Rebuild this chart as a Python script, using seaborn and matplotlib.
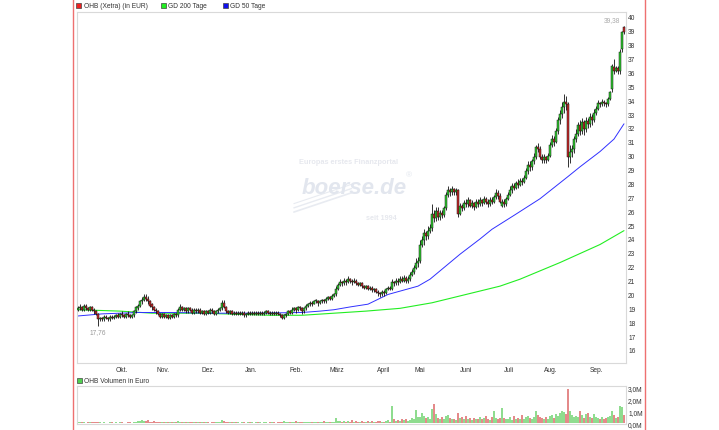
import numpy as np
import pandas as pd
import matplotlib
matplotlib.use("Agg")
import matplotlib.pyplot as plt
import seaborn as sns
from matplotlib.patches import Rectangle
from matplotlib.lines import Line2D

# ---------------- data ----------------
opens = [
    18.9, 19.0, 19.1, 18.9, 19.2, 19.0, 18.9, 19.1, 18.9, 18.8,
    18.6, 18.2, 18.3, 18.2, 18.4, 18.3, 18.2, 18.4, 18.3, 18.4,
    18.5, 18.4, 18.6, 18.5, 18.4, 18.6, 18.5, 18.4, 18.5, 18.8,
    19.0, 19.2, 19.5, 19.6, 19.8, 19.7, 19.5, 19.3, 19.1, 18.9,
    18.8, 18.6, 18.4, 18.6, 18.4, 18.5, 18.3, 18.5, 18.4, 18.6,
    18.5, 18.9, 19.1, 18.9, 19.0, 18.8, 19.0, 18.9, 18.7, 18.9,
    18.8, 18.9, 18.7, 18.8, 18.6, 18.8, 18.7, 18.9, 18.8, 18.6,
    18.8, 18.9, 19.0, 19.4, 19.1, 18.8, 18.7, 18.8, 18.6, 18.7,
    18.6, 18.7, 18.6, 18.7, 18.5, 18.6, 18.7, 18.6, 18.7, 18.6,
    18.7, 18.6, 18.7, 18.6, 18.7, 18.8, 18.7, 18.6, 18.7, 18.6,
    18.7, 18.6, 18.5, 18.3, 18.5, 18.6, 18.8, 18.7, 18.9, 19.0,
    18.9, 19.1, 19.0, 18.8, 19.0, 19.2, 19.3, 19.4, 19.3, 19.5,
    19.5, 19.4, 19.5, 19.6, 19.5, 19.7, 19.8, 19.7, 19.9, 20.0,
    20.4, 20.7, 20.9, 20.8, 21.0, 20.9, 21.1, 21.0, 20.9, 21.0,
    20.8, 20.7, 20.8, 20.6, 20.5, 20.6, 20.4, 20.5, 20.3, 20.4,
    20.2, 20.1, 20.0, 20.2, 20.1, 20.4, 20.5, 20.4, 20.9, 20.8,
    21.0, 20.9, 21.1, 21.0, 21.2, 21.0, 21.1, 21.4, 21.6, 21.9,
    22.3, 22.4, 23.6, 23.9, 24.4, 24.2, 24.6, 24.8, 25.8, 25.5,
    26.0, 25.6, 25.9, 25.7, 26.2, 27.2, 27.5, 27.4, 27.6, 27.4,
    27.5, 25.8, 26.4, 26.2, 26.6, 26.5, 26.8, 26.4, 26.6, 26.3,
    26.7, 26.5, 26.8, 26.6, 26.9, 26.7, 26.5, 26.8, 26.7, 27.0,
    27.3, 27.1, 26.4, 26.7, 26.5, 26.9, 27.2, 27.5, 27.8, 27.7,
    28.0, 27.9, 28.2, 28.1, 28.4, 28.9, 29.3, 29.2, 29.6, 29.9,
    30.6, 30.5, 29.9, 29.7, 29.9, 29.7, 30.0, 30.8, 31.2, 31.0,
    31.8, 32.6, 33.0, 33.5, 33.9, 33.7, 29.9, 30.3, 30.5, 31.2,
    31.6, 32.2, 31.8, 32.4, 31.9, 32.5, 32.3, 32.8, 32.6, 33.1,
    33.4, 33.8, 33.7, 33.9, 33.8, 33.7, 34.1, 34.8, 36.4, 36.1,
    36.3, 36.1, 37.7, 39.3,
]
closes = [
    19.0, 19.1, 18.9, 19.2, 19.0, 18.9, 19.1, 18.9, 18.8, 18.6,
    18.2, 18.3, 18.2, 18.4, 18.3, 18.2, 18.4, 18.3, 18.4, 18.5,
    18.4, 18.6, 18.5, 18.4, 18.6, 18.5, 18.4, 18.5, 18.8, 19.1,
    19.2, 19.5, 19.6, 19.8, 19.7, 19.5, 19.2, 19.1, 18.9, 18.8,
    18.6, 18.4, 18.6, 18.4, 18.5, 18.3, 18.5, 18.4, 18.6, 18.5,
    18.9, 19.1, 18.9, 19.0, 18.8, 19.0, 18.9, 18.7, 18.9, 18.8,
    18.9, 18.7, 18.8, 18.6, 18.8, 18.7, 18.9, 18.8, 18.6, 18.8,
    18.9, 19.0, 19.4, 19.1, 18.8, 18.7, 18.8, 18.6, 18.7, 18.6,
    18.7, 18.6, 18.7, 18.5, 18.6, 18.7, 18.6, 18.7, 18.6, 18.7,
    18.6, 18.7, 18.6, 18.7, 18.8, 18.7, 18.6, 18.7, 18.6, 18.7,
    18.6, 18.5, 18.3, 18.5, 18.6, 18.8, 18.7, 18.9, 19.0, 18.9,
    19.1, 19.0, 18.8, 19.0, 19.2, 19.3, 19.4, 19.3, 19.5, 19.6,
    19.4, 19.5, 19.6, 19.5, 19.7, 19.8, 19.7, 19.9, 20.0, 20.4,
    20.7, 20.9, 20.8, 21.0, 20.9, 21.1, 21.0, 20.9, 21.0, 20.8,
    20.7, 20.8, 20.6, 20.5, 20.6, 20.4, 20.5, 20.3, 20.4, 20.2,
    20.1, 20.0, 20.2, 20.1, 20.4, 20.5, 20.4, 20.9, 20.8, 21.0,
    20.9, 21.1, 21.0, 21.2, 21.0, 21.1, 21.4, 21.6, 21.9, 22.3,
    22.4, 23.6, 23.9, 24.4, 24.2, 24.6, 24.8, 25.8, 25.5, 26.0,
    25.6, 25.9, 25.7, 26.2, 27.2, 27.5, 27.4, 27.6, 27.4, 27.5,
    25.8, 26.4, 26.2, 26.6, 26.5, 26.8, 26.4, 26.6, 26.3, 26.7,
    26.5, 26.8, 26.6, 26.9, 26.7, 26.5, 26.8, 26.7, 27.0, 27.3,
    27.1, 26.7, 26.7, 26.5, 26.9, 27.2, 27.5, 27.8, 27.7, 28.0,
    27.9, 28.2, 28.1, 28.4, 28.9, 29.3, 29.2, 29.6, 29.9, 30.6,
    30.5, 29.9, 29.7, 29.9, 29.7, 30.0, 30.8, 31.2, 31.0, 31.8,
    32.6, 33.0, 33.5, 33.9, 33.7, 29.9, 30.3, 30.5, 31.2, 31.6,
    32.2, 31.8, 32.4, 31.9, 32.5, 32.3, 32.8, 32.6, 33.1, 33.4,
    33.8, 33.7, 33.9, 33.8, 33.7, 34.1, 34.6, 36.5, 36.1, 36.3,
    36.1, 37.5, 38.9, 38.95,
]
highs = [
    19.2, 19.3, 19.2, 19.3, 19.3, 19.1, 19.2, 19.2, 19.0, 18.9,
    18.7, 18.4, 18.4, 18.5, 18.5, 18.4, 18.5, 18.5, 18.5, 18.6,
    18.7, 18.7, 18.8, 18.6, 18.7, 18.8, 18.6, 18.6, 18.9, 19.2,
    19.3, 19.6, 19.8, 20.0, 20.0, 19.9, 19.6, 19.4, 19.2, 19.0,
    18.9, 18.7, 18.7, 18.7, 18.6, 18.6, 18.6, 18.6, 18.7, 18.7,
    19.0, 19.3, 19.2, 19.1, 19.1, 19.1, 19.1, 19.0, 19.0, 19.0,
    19.0, 19.0, 18.9, 18.9, 18.9, 18.9, 19.0, 19.0, 18.9, 18.9,
    19.0, 19.1, 19.6, 19.6, 19.2, 18.9, 18.9, 18.9, 18.8, 18.8,
    18.8, 18.8, 18.8, 18.8, 18.7, 18.8, 18.8, 18.8, 18.8, 18.8,
    18.8, 18.8, 18.8, 18.8, 18.9, 18.9, 18.8, 18.8, 18.8, 18.8,
    18.8, 18.7, 18.6, 18.6, 18.7, 18.9, 18.9, 19.1, 19.1, 19.1,
    19.2, 19.2, 19.1, 19.1, 19.3, 19.4, 19.5, 19.5, 19.6, 19.7,
    19.6, 19.6, 19.7, 19.7, 19.8, 19.9, 19.9, 20.0, 20.1, 20.6,
    20.8, 21.1, 21.0, 21.2, 21.1, 21.3, 21.2, 21.1, 21.2, 21.1,
    20.9, 20.9, 20.9, 20.7, 20.7, 20.7, 20.6, 20.6, 20.5, 20.5,
    20.3, 20.2, 20.3, 20.3, 20.5, 20.6, 20.6, 21.1, 21.0, 21.2,
    21.2, 21.3, 21.3, 21.4, 21.3, 21.3, 21.6, 21.8, 22.1, 22.6,
    22.7, 23.9, 24.2, 24.7, 24.6, 24.9, 25.1, 26.5, 26.1, 26.3,
    26.3, 26.1, 26.1, 26.4, 27.4, 27.8, 27.7, 27.8, 27.7, 27.7,
    27.6, 26.6, 26.5, 26.8, 26.9, 27.0, 26.9, 26.8, 26.7, 26.9,
    26.9, 27.0, 26.9, 27.1, 27.0, 26.9, 27.0, 27.0, 27.2, 27.6,
    27.5, 27.3, 26.9, 26.9, 27.0, 27.4, 27.8, 28.0, 28.0, 28.2,
    28.3, 28.4, 28.4, 28.6, 29.1, 29.6, 29.6, 29.8, 30.2, 30.8,
    30.9, 30.7, 30.1, 30.1, 30.0, 30.2, 31.0, 31.5, 31.4, 32.0,
    32.8, 33.3, 33.9, 34.45, 34.3, 33.9, 30.8, 30.8, 31.4, 31.9,
    32.4, 32.6, 32.7, 32.6, 32.8, 32.7, 33.1, 33.0, 33.4, 33.6,
    34.0, 33.9, 34.1, 34.0, 33.9, 34.2, 34.7, 36.6, 37.0, 36.5,
    36.5, 37.7, 39.0, 39.38,
]
lows = [
    18.8, 18.9, 18.8, 18.8, 18.9, 18.8, 18.8, 18.8, 18.6, 18.5,
    17.76, 18.1, 18.1, 18.1, 18.2, 18.1, 18.1, 18.2, 18.2, 18.3,
    18.3, 18.3, 18.4, 18.3, 18.3, 18.4, 18.3, 18.3, 18.4, 18.7,
    18.9, 19.1, 19.3, 19.5, 19.5, 19.3, 19.1, 18.9, 18.8, 18.6,
    18.5, 18.3, 18.3, 18.3, 18.3, 18.2, 18.2, 18.3, 18.3, 18.4,
    18.4, 18.8, 18.8, 18.8, 18.7, 18.7, 18.8, 18.6, 18.6, 18.7,
    18.7, 18.6, 18.6, 18.5, 18.5, 18.6, 18.6, 18.7, 18.5, 18.5,
    18.7, 18.8, 18.9, 19.0, 18.7, 18.6, 18.6, 18.5, 18.5, 18.5,
    18.5, 18.5, 18.5, 18.4, 18.4, 18.5, 18.5, 18.5, 18.5, 18.5,
    18.5, 18.5, 18.5, 18.5, 18.6, 18.6, 18.5, 18.5, 18.5, 18.5,
    18.5, 18.4, 18.2, 18.2, 18.4, 18.5, 18.6, 18.6, 18.8, 18.7,
    18.8, 18.9, 18.6, 18.7, 18.9, 19.1, 19.2, 19.2, 19.3, 19.4,
    19.2, 19.3, 19.4, 19.4, 19.4, 19.6, 19.6, 19.6, 19.8, 19.9,
    20.3, 20.6, 20.6, 20.7, 20.7, 20.8, 20.8, 20.7, 20.8, 20.7,
    20.6, 20.6, 20.5, 20.4, 20.4, 20.3, 20.3, 20.2, 20.2, 20.1,
    19.9, 19.8, 19.9, 19.9, 20.0, 20.3, 20.3, 20.3, 20.6, 20.7,
    20.7, 20.8, 20.9, 20.9, 20.8, 20.8, 21.0, 21.3, 21.5, 21.8,
    22.0, 22.3, 23.4, 23.6, 23.9, 24.0, 24.4, 24.6, 25.2, 25.3,
    25.4, 25.4, 25.5, 25.6, 26.1, 27.0, 27.1, 27.2, 27.2, 27.2,
    25.6, 25.7, 26.0, 26.1, 26.3, 26.3, 26.3, 26.2, 26.1, 26.2,
    26.3, 26.4, 26.4, 26.5, 26.5, 26.3, 26.4, 26.5, 26.6, 26.9,
    26.9, 26.6, 26.3, 26.3, 26.4, 26.8, 27.1, 27.3, 27.5, 27.6,
    27.7, 27.8, 27.9, 28.0, 28.3, 28.7, 28.9, 29.0, 29.4, 29.8,
    30.3, 29.8, 29.5, 29.5, 29.5, 29.6, 29.9, 30.6, 30.7, 30.9,
    31.6, 32.3, 32.7, 33.1, 33.3, 29.2, 29.5, 29.9, 30.2, 31.0,
    31.4, 31.5, 31.6, 31.5, 31.7, 32.0, 32.1, 32.2, 32.4, 32.9,
    33.3, 33.5, 33.6, 33.6, 33.5, 33.6, 34.0, 34.6, 35.9, 36.0,
    35.9, 35.9, 37.5, 38.8,
]
# volume in million EUR
volume = [
    0.08, 0.05, 0.10, 0.06, 0.04, 0.07, 0.05, 0.09, 0.06, 0.05,
    0.12, 0.06, 0.04, 0.05, 0.03, 0.04, 0.06, 0.05, 0.04, 0.05,
    0.04, 0.06, 0.05, 0.03, 0.04, 0.05, 0.06, 0.04, 0.08, 0.12,
    0.18, 0.15, 0.22, 0.20, 0.14, 0.25, 0.12, 0.10, 0.15, 0.08,
    0.10, 0.12, 0.08, 0.06, 0.07, 0.05, 0.08, 0.06, 0.05, 0.07,
    0.14, 0.10, 0.08, 0.12, 0.06, 0.09, 0.07, 0.05, 0.06, 0.08,
    0.05, 0.07, 0.12, 0.06, 0.05, 0.08, 0.04, 0.06, 0.05, 0.07,
    0.08, 0.10, 0.22, 0.18, 0.12, 0.08, 0.06, 0.10, 0.05, 0.07,
    0.05, 0.04, 0.06, 0.05, 0.04, 0.08, 0.05, 0.06, 0.04, 0.05,
    0.06, 0.05, 0.04, 0.07, 0.05, 0.04, 0.06, 0.09, 0.05, 0.04,
    0.06, 0.08, 0.10, 0.14, 0.09, 0.12, 0.08, 0.10, 0.06, 0.14,
    0.08, 0.06, 0.10, 0.12, 0.08, 0.05, 0.07, 0.10, 0.08, 0.12,
    0.06, 0.10, 0.08, 0.14, 0.07, 0.05, 0.08, 0.10, 0.06, 0.40,
    0.20, 0.15, 0.12, 0.18, 0.10, 0.14, 0.12, 0.22, 0.10, 0.15,
    0.12, 0.08, 0.16, 0.10, 0.12, 0.18, 0.08, 0.14, 0.10, 0.12,
    0.15, 0.20, 0.12, 0.10, 0.18, 0.25, 0.12, 1.40, 0.30, 0.15,
    0.22, 0.18, 0.30, 0.25, 0.35, 0.20, 0.28, 0.40, 0.35, 1.10,
    0.50, 0.55, 0.85, 0.60, 0.40, 0.55, 0.30, 1.15, 1.60, 0.75,
    0.45, 0.35, 0.50, 0.30, 0.60, 0.70, 0.40, 0.35, 0.30, 0.25,
    0.85, 0.40, 0.50, 0.30, 0.60, 0.35, 0.45, 0.25, 0.40, 0.30,
    0.35, 0.55, 0.30, 0.45, 0.60, 0.30, 0.25, 0.50, 1.00, 0.40,
    0.35, 0.45, 1.30, 0.40, 0.30, 0.35, 0.50, 0.25, 0.60, 0.30,
    0.45, 0.35, 0.70, 0.30, 0.55, 0.60, 0.40, 0.35, 0.50, 1.00,
    0.65, 0.50, 0.40, 0.35, 0.55, 0.30, 0.60, 0.70, 0.45, 0.80,
    0.60, 0.85, 1.00, 0.90, 0.75, 2.85, 1.00, 0.70, 0.55, 0.60,
    0.50, 1.00, 0.65, 0.40, 0.75, 0.85, 0.50, 0.45, 0.80, 0.55,
    0.40, 0.35, 0.55, 0.30, 0.45, 0.50, 0.60, 1.00, 0.70, 0.45,
    0.55, 1.40, 1.35, 0.70,
]
# moving averages, read at selected trading-day positions
ma50_day = [0, 12, 30, 46, 71, 88, 112, 121, 128, 136, 145, 155, 165, 170,
            176, 181, 191, 201, 207, 218, 231, 245, 251, 261, 268, 273]
ma50_val = [18.45, 18.6, 18.7, 18.7, 18.65, 18.65, 18.7, 18.8, 18.9, 19.1, 19.3,
            20.0, 20.4, 20.6, 21.1, 21.7, 22.9, 24.0, 24.7, 25.7, 26.9, 28.5,
            29.2, 30.3, 31.2, 32.3]
ma200_day = [0, 21, 37, 62, 96, 112, 144, 161, 177, 194, 211, 221, 241, 261, 273]
ma200_val = [18.9, 18.8, 18.65, 18.65, 18.5, 18.5, 18.8, 19.0, 19.4, 20.0, 20.6,
             21.1, 22.3, 23.6, 24.6]

month_labels = ["Okt.", "Nov.", "Dez.", "Jan.", "Feb.", "März", "April",
                "Mai", "Juni", "Juli", "Aug.", "Sep."]
month_pos = [22, 42.5, 65, 86.5, 109, 129.5, 153, 171, 194, 215.5, 236.5, 259.5]
price_ticks = list(range(16, 41))
vol_ticks = [0, 1, 2, 3]
vol_tick_labels = ["0,0M", "1,0M", "2,0M", "3,0M"]
legend_items = ["OHB (Xetra) (in EUR)", "GD 200 Tage", "GD 50 Tage"]
high_label = "39,38"
low_label = "17,76"

# ---------------- style ----------------
sns.set_theme(style="white")
plt.rcParams['font.family'] = ['Liberation Sans', 'DejaVu Sans']
FS = 4.8
TXT = "#333333"
GREEN = "#2fcc2f"
RED = "#cc2a2a"
VGREEN = "#8fdc8f"
VRED = "#e48a8a"
FRAME = "#d9d9d9"

df = pd.DataFrame({"day": np.arange(len(closes)), "open": opens, "close": closes,
                   "high": highs, "low": lows, "volume": volume})
df["up"] = df["close"] >= df["open"]
ma50 = pd.DataFrame({"day": ma50_day, "value": ma50_val})
ma200 = pd.DataFrame({"day": ma200_day, "value": ma200_val})

W, H = 719, 431
fig = plt.figure(figsize=(W / 100, H / 100), dpi=100)
fig.patch.set_facecolor("white")

ax = fig.add_axes([77 / W, 1 - 364 / H, 549 / W, 351 / H])
axv = fig.add_axes([77 / W, 1 - 425 / H, 549 / W, 38 / H])

# watermark (behind data)
wm = "#e2e6ee"
ax.text(0.495, 0.575, "Europas erstes Finanzportal", transform=ax.transAxes,
        fontsize=5.3, fontweight="bold", color="#e6e8ee", ha="center", va="center")
ax.text(0.505, 0.50, "boerse.de", transform=ax.transAxes, fontsize=16,
        fontweight="bold", fontstyle="italic", color=wm, ha="center", va="center")
ax.text(0.605, 0.535, "®", transform=ax.transAxes, fontsize=6, color=wm,
        ha="center", va="center")
ax.text(0.555, 0.415, "seit 1994", transform=ax.transAxes, fontsize=5.2,
        fontweight="bold", color="#e6e8ee", ha="center", va="center")
for k, (dy, lw) in enumerate([(0.0, 1.2), (0.012, 1.0), (0.024, 0.8)]):
    ax.plot([0.395, 0.50], [0.43 + dy, 0.485 + dy], transform=ax.transAxes,
            color="#e8ebf1", lw=lw, solid_capstyle="round", zorder=0)

# moving averages
sns.lineplot(data=ma200, x="day", y="value", ax=ax, color="#22ee22", linewidth=0.8,
             zorder=2)
sns.lineplot(data=ma50, x="day", y="value", ax=ax, color="#3030ff", linewidth=0.7,
             zorder=2)

# candles
ax.vlines(df["day"], df["low"], df["high"], color="#111111", linewidth=0.6, zorder=3)
body_bottom = np.minimum(df["open"], df["close"])
body_h = np.maximum(np.abs(df["close"] - df["open"]), 0.05)
ax.bar(df["day"], body_h, bottom=body_bottom, width=0.95,
       color=np.where(df["up"], GREEN, RED), edgecolor="#111111", linewidth=0.35,
       zorder=4)

# high / low annotations
imax = int(np.argmax(highs))
imin = int(np.argmin(lows))
ax.text(imax - 2, highs[imax] + 0.4, high_label, fontsize=FS, color="#aaaaaa",
        ha="right", va="center")
ax.text(imin, lows[imin] - 0.45, low_label, fontsize=FS, color="#999999",
        ha="center", va="center")

ax.set_xlim(-0.5, 274)
ax.set_ylim(15.06, 40.36)
ax.set_yticks(price_ticks)
ax.set_yticklabels([str(t) for t in price_ticks])
ax.yaxis.tick_right()
ax.set_xticks(month_pos)
ax.set_xticklabels(month_labels)
ax.tick_params(axis="both", length=0, labelsize=FS, labelcolor=TXT)
ax.tick_params(axis="y", pad=1.5)
ax.tick_params(axis="x", pad=2.5)
ax.set_xlabel("")
ax.set_ylabel("")
for s in ax.spines.values():
    s.set_color(FRAME)
    s.set_linewidth(0.8)

# volume panel
axv.bar(df["day"], df["volume"], width=0.65,
        color=np.where(df["up"], VGREEN, VRED), linewidth=0)
axv.set_xlim(-0.5, 274)
axv.set_ylim(-0.08, 3.12)
axv.set_yticks(vol_ticks)
axv.set_yticklabels(vol_tick_labels)
axv.yaxis.tick_right()
axv.set_xticks([])
axv.tick_params(axis="both", length=0, labelsize=FS, labelcolor=TXT, pad=1.5)
for s in axv.spines.values():
    s.set_color(FRAME)
    s.set_linewidth(0.8)

# legends (top and volume)
def legend_square(px, py, color):
    fig.add_artist(Rectangle((px / W, 1 - (py + 5) / H), 5 / W, 5 / H,
                             transform=fig.transFigure, facecolor=color,
                             edgecolor="#444444", linewidth=0.5))

legend_square(76, 3.5, "#ee2020")
fig.text(83.5 / W, 1 - 6.2 / H, legend_items[0], fontsize=FS, color=TXT, va="center")
legend_square(160.5, 3.5, "#20ee20")
fig.text(168 / W, 1 - 6.2 / H, legend_items[1], fontsize=FS, color=TXT, va="center")
legend_square(222.5, 3.5, "#1010ee")
fig.text(230.5 / W, 1 - 6.2 / H, legend_items[2], fontsize=FS, color=TXT, va="center")

legend_square(77, 379, "#50d050")
fig.text(84 / W, 1 - 381.5 / H, "OHB Volumen in Euro", fontsize=FS, color=TXT,
         va="center")

# red frame lines
for px in (73, 645):
    fig.add_artist(Line2D([px / W, px / W], [0, 1], transform=fig.transFigure,
                          color="#ee7070", linewidth=1.0))

fig.savefig("out.png", dpi=100)
